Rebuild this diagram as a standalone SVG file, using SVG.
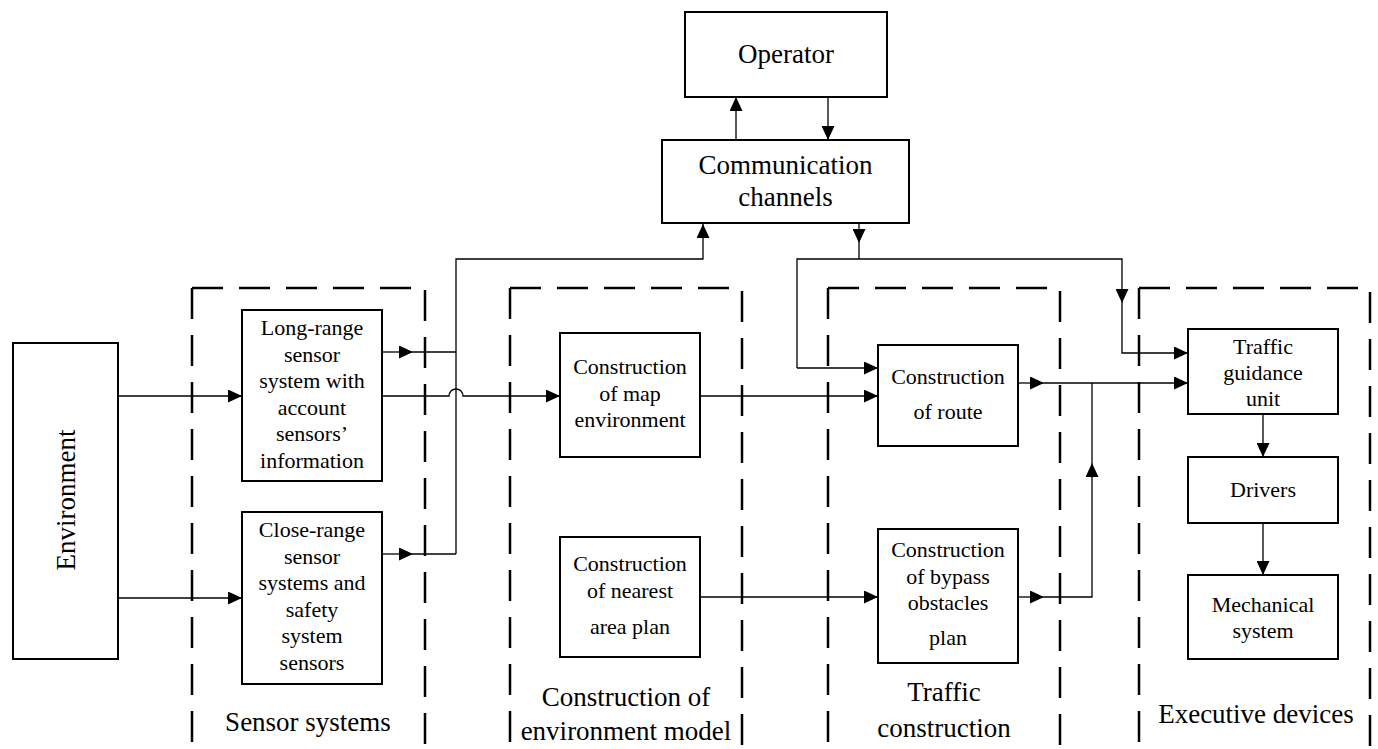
<svg xmlns="http://www.w3.org/2000/svg" width="1378" height="749" viewBox="0 0 1378 749" font-family="'Liberation Serif', 'Times New Roman', 'DejaVu Serif', serif">
<defs>
<style>
.box{fill:#fff;stroke:#000;stroke-width:2}
.dash{fill:none;stroke:#000;stroke-width:2.5;stroke-dasharray:31 16}
.w{fill:none;stroke:#000;stroke-width:1.3}
text{font-family:'Liberation Serif','Times New Roman','DejaVu Serif',serif;fill:#000;text-anchor:middle}
.t27{font-size:27px}
.t22{font-size:22px}
</style>
<marker id="ah" viewBox="0 0 14 13" refX="14" refY="6.5" markerWidth="14" markerHeight="13" markerUnits="userSpaceOnUse" orient="auto">
<path d="M0,0 L14,6.5 L0,13 Z" fill="#000"/>
</marker>
</defs>
<rect width="1378" height="749" fill="#fff"/>

<g id="groups">
<g id="grp-sensor"><path class="dash" d="M192,288 V749"/><path class="dash" d="M192,288 H425 V749"/><text class="t27" x="308" y="731" font-family="'Liberation Serif', serif">Sensor systems</text></g>
<g id="grp-env-model"><path class="dash" d="M510,288 V749"/><path class="dash" d="M510,288 H742 V749"/><text class="t27" x="626" y="706" font-family="'Liberation Serif', serif">Construction of</text><text class="t27" x="626" y="740" font-family="'Liberation Serif', serif">environment model</text></g>
<g id="grp-traffic"><path class="dash" d="M828,288 V749"/><path class="dash" d="M828,288 H1060 V749"/><text class="t27" x="944" y="701" font-family="'Liberation Serif', serif">Traffic</text><text class="t27" x="944" y="737" font-family="'Liberation Serif', serif">construction</text></g>
<g id="grp-exec"><path class="dash" d="M1139,288 V749"/><path class="dash" d="M1139,288 H1370 V749"/><text class="t27" x="1256" y="723" font-family="'Liberation Serif', serif">Executive devices</text></g>
</g>

<g id="connectors">
<line class="w" x1="736" y1="140" x2="736" y2="97" marker-end="url(#ah)"/>
<line class="w" x1="828" y1="97" x2="828" y2="140" marker-end="url(#ah)"/>
<line class="w" x1="859" y1="223" x2="859" y2="243" marker-end="url(#ah)"/>
<line class="w" x1="859" y1="243" x2="859" y2="259"/>
<path class="w" d="M456,554 V259 H703 V224" marker-end="url(#ah)"/>
<path class="w" d="M797,368 V259 H1122 V303" marker-end="url(#ah)"/>
<path class="w" d="M1122,303 V353 H1188" marker-end="url(#ah)"/>
<path class="w" d="M797,368 H878" marker-end="url(#ah)"/>
<line class="w" x1="118" y1="396" x2="242" y2="396" marker-end="url(#ah)"/>
<line class="w" x1="118" y1="598" x2="242" y2="598" marker-end="url(#ah)"/>
<line class="w" x1="382" y1="352" x2="413" y2="352" marker-end="url(#ah)"/>
<line class="w" x1="413" y1="352" x2="456" y2="352"/>
<line class="w" x1="382" y1="554" x2="413" y2="554" marker-end="url(#ah)"/>
<line class="w" x1="413" y1="554" x2="456" y2="554"/>
<path class="w" d="M382,396 H449 A7,7 0 0 1 463,396 H560" marker-end="url(#ah)"/>
<line class="w" x1="700" y1="396" x2="878" y2="396" marker-end="url(#ah)"/>
<line class="w" x1="700" y1="597" x2="878" y2="597" marker-end="url(#ah)"/>
<line class="w" x1="1018" y1="383" x2="1044" y2="383" marker-end="url(#ah)"/>
<line class="w" x1="1044" y1="383" x2="1188" y2="383" marker-end="url(#ah)"/>
<line class="w" x1="1018" y1="597" x2="1044" y2="597" marker-end="url(#ah)"/>
<path class="w" d="M1044,597 H1092 V463" marker-end="url(#ah)"/>
<line class="w" x1="1092" y1="463" x2="1092" y2="383"/>
<line class="w" x1="1263" y1="414" x2="1263" y2="457" marker-end="url(#ah)"/>
<line class="w" x1="1263" y1="523" x2="1263" y2="575" marker-end="url(#ah)"/>
</g>

<g id="operator"><rect class="box" x="685" y="12" width="202" height="85"/><text class="t27" x="786" y="63" font-family="'Liberation Serif', serif">Operator</text></g>
<g id="comm"><rect class="box" x="662" y="140" width="247" height="83"/><text class="t27" x="785.5" y="174" font-family="'Liberation Serif', serif">Communication</text><text class="t27" x="785.5" y="206" font-family="'Liberation Serif', serif">channels</text></g>
<g id="environment"><rect class="box" x="13" y="343" width="105" height="316"/><text class="t27" transform="translate(75,500) rotate(-90)" font-family="'Liberation Serif', serif">Environment</text></g>
<g id="long-range"><rect class="box" x="242" y="310" width="140" height="171"/>
<text class="t22" x="312" font-family="'Liberation Serif', serif"><tspan x="312" y="335">Long-range</tspan><tspan x="312" y="361.5">sensor</tspan><tspan x="312" y="388">system with</tspan><tspan x="312" y="414.5">account</tspan><tspan x="312" y="441">sensors’</tspan><tspan x="312" y="467.5">information</tspan></text></g>
<g id="close-range"><rect class="box" x="242" y="512" width="140" height="172"/>
<text class="t22" x="312" font-family="'Liberation Serif', serif"><tspan x="312" y="537">Close-range</tspan><tspan x="312" y="563.5">sensor</tspan><tspan x="312" y="590">systems and</tspan><tspan x="312" y="616.5">safety</tspan><tspan x="312" y="643">system</tspan><tspan x="312" y="669.5">sensors</tspan></text></g>
<g id="map-env"><rect class="box" x="560" y="333" width="140" height="124"/>
<text class="t22" x="630" font-family="'Liberation Serif', serif"><tspan x="630" y="374">Construction</tspan><tspan x="630" y="401">of map</tspan><tspan x="630" y="427">environment</tspan></text></g>
<g id="nearest"><rect class="box" x="560" y="537" width="140" height="120"/>
<text class="t22" x="630" font-family="'Liberation Serif', serif"><tspan x="630" y="571">Construction</tspan><tspan x="630" y="598">of nearest</tspan><tspan x="630" y="634">area plan</tspan></text></g>
<g id="route"><rect class="box" x="878" y="345" width="140" height="101"/>
<text class="t22" x="948" font-family="'Liberation Serif', serif"><tspan x="948" y="384">Construction</tspan><tspan x="948" y="419">of route</tspan></text></g>
<g id="bypass"><rect class="box" x="878" y="529" width="140" height="134"/>
<text class="t22" x="948" font-family="'Liberation Serif', serif"><tspan x="948" y="557">Construction</tspan><tspan x="948" y="584">of bypass</tspan><tspan x="948" y="610">obstacles</tspan><tspan x="948" y="645">plan</tspan></text></g>
<g id="guidance"><rect class="box" x="1188" y="329" width="150" height="85"/>
<text class="t22" x="1263" font-family="'Liberation Serif', serif"><tspan x="1263" y="354">Traffic</tspan><tspan x="1263" y="380">guidance</tspan><tspan x="1263" y="406">unit</tspan></text></g>
<g id="drivers"><rect class="box" x="1188" y="457" width="150" height="66"/><text class="t22" x="1263" y="497" font-family="'Liberation Serif', serif">Drivers</text></g>
<g id="mechanical"><rect class="box" x="1188" y="575" width="150" height="84"/>
<text class="t22" x="1263" font-family="'Liberation Serif', serif"><tspan x="1263" y="612">Mechanical</tspan><tspan x="1263" y="638">system</tspan></text></g>
</svg>
